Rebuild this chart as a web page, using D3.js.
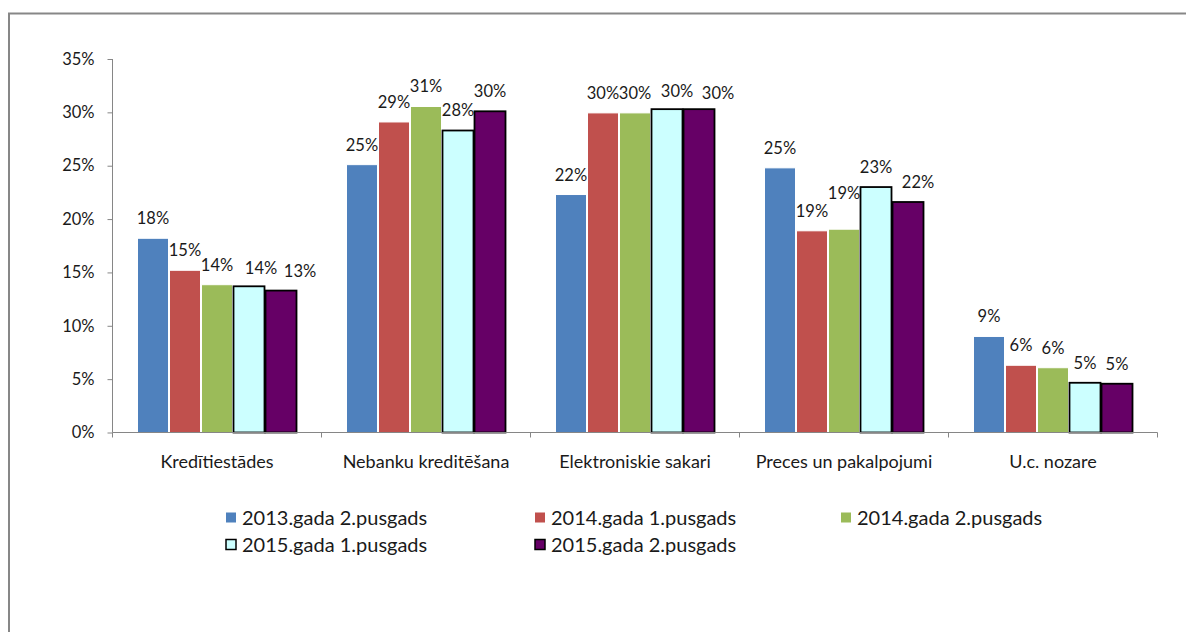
<!DOCTYPE html>
<html>
<head>
<meta charset="utf-8">
<script src="https://cdn.jsdelivr.net/npm/d3@7"></script>
<style>
  html, body { margin: 0; padding: 0; background: #fff; }
  svg { display: block; font-family: Lato, "Open Sans", sans-serif; }
</style>
</head>
<body>
<svg id="chart" width="1186" height="632"></svg>
<script>
// ---- data ----
const categories = ["Kredītiestādes", "Nebanku kreditēšana", "Elektroniskie sakari", "Preces un pakalpojumi", "U.c. nozare"];
const seriesNames = ["2013.gada 2.pusgads", "2014.gada 1.pusgads", "2014.gada 2.pusgads", "2015.gada 1.pusgads", "2015.gada 2.pusgads"];
const s2013H2 = [0.182, 0.251, 0.223, 0.248, 0.090];
const s2014H1 = [0.152, 0.291, 0.2995, 0.189, 0.063];
const s2014H2 = [0.1385, 0.3055, 0.2995, 0.1905, 0.0607];
const s2015H1 = [0.137, 0.283, 0.303, 0.230, 0.0466];
const s2015H2 = [0.133, 0.301, 0.303, 0.216, 0.0457];
const yTicks = [0, 0.05, 0.10, 0.15, 0.20, 0.25, 0.30, 0.35];

// ---- styles ----
const fills = ["#4F81BD", "#C0504D", "#9BBB59", "#CCFFFF", "#660066"];
const strokes = ["#ffffff", "#ffffff", "#ffffff", "#000000", "#000000"];
const strokeW = [1, 1, 1, 1.8, 1.8];
// manual label nudges (as moved in the original): [series-category] -> [dx, dy]
const labelNudge = {
  "3-0": [12, 2], "4-0": [19, 0],
  "3-2": [10, 2], "4-2": [19, 4],
  "2-3": [0, -16], "4-3": [10, 0]
};

const allSeries = [s2013H2, s2014H1, s2014H2, s2015H1, s2015H2];

const svg = d3.select("#chart");

// outer frame
svg.append("rect")
  .attr("x", 9).attr("y", 13.5)
  .attr("width", 1300).attr("height", 800)
  .attr("fill", "none").attr("stroke", "#878787").attr("stroke-width", 2);

const pLeft = 112.5, pRight = 1157.5, pTop = 59, pBottom = 432.5;

const y = d3.scaleLinear().domain([0, 0.35]).range([pBottom, pTop]);
const x0 = d3.scaleBand().domain(categories).range([pLeft, pRight])
  .paddingInner(0.2344).paddingOuter(0.1172);
const x1 = d3.scaleBand().domain(d3.range(seriesNames.length)).range([0, x0.bandwidth()]).padding(0);

const pct = d3.format(".0%");
const axisColor = "#868686";
const textColor = "#1a1a1a";

// y axis
const yAxis = svg.append("g").attr("transform", `translate(${pLeft},0)`)
  .call(d3.axisLeft(y).tickValues(yTicks).tickFormat(pct).tickSize(5).tickPadding(13));
yAxis.select(".domain").attr("stroke", axisColor).attr("d", `M0,${pTop}V${pBottom}`);
yAxis.selectAll(".tick line").attr("stroke", axisColor);
yAxis.selectAll(".tick text").attr("fill", textColor).style("font-size", "16.5px").style("font-family", "Lato");

// bars
const groups = svg.append("g").selectAll("g")
  .data(allSeries).join("g");

groups.each(function(vals, si) {
  d3.select(this).selectAll("rect")
    .data(vals).join("rect")
    .attr("x", (d, ci) => x0(categories[ci]) + x1(si) + 0.5)
    .attr("y", d => y(d))
    .attr("width", x1.bandwidth() - 1)
    .attr("height", d => pBottom - y(d))
    .attr("fill", fills[si])
    .attr("stroke", strokes[si])
    .attr("stroke-width", strokeW[si]);
});

// x axis
const xAxis = svg.append("g").attr("transform", `translate(0,${pBottom})`);
xAxis.append("path").attr("d", `M${pLeft},0H${pRight}`).attr("stroke", axisColor).attr("fill", "none");
const halfGap = (x0.step() - x0.bandwidth()) / 2;
const boundaryX = i => i === 0 ? pLeft : (i === categories.length ? pRight : x0(categories[i]) - halfGap);
xAxis.selectAll("line.tk").data(d3.range(categories.length + 1)).join("line")
  .attr("class", "tk")
  .attr("x1", boundaryX).attr("x2", boundaryX)
  .attr("y1", 0).attr("y2", 5).attr("stroke", axisColor);
xAxis.selectAll("text").data(categories).join("text")
  .attr("x", c => x0(c) + x0.bandwidth() / 2)
  .attr("y", 35)
  .attr("text-anchor", "middle")
  .attr("fill", textColor)
  .style("font-size", "18px")
  .text(c => c);

// data labels
groups.each(function(vals, si) {
  d3.select(this).selectAll("text")
    .data(vals).join("text")
    .attr("x", (d, ci) => x0(categories[ci]) + x1(si) + x1.bandwidth() / 2 + ((labelNudge[si + "-" + ci] || [0, 0])[0]))
    .attr("y", (d, ci) => y(d) - 14 + ((labelNudge[si + "-" + ci] || [0, 0])[1]))
    .attr("text-anchor", "middle")
    .attr("fill", textColor)
    .style("font-size", "16.5px")
    .text(d => pct(d));
});

// legend
const legendPos = [[226, 512.5], [535, 512.5], [841, 512.5], [226, 539.5], [535, 539.5]];
const lg = svg.append("g").selectAll("g").data(seriesNames).join("g")
  .attr("transform", (d, i) => `translate(${legendPos[i][0]},${legendPos[i][1]})`);
lg.append("rect")
  .attr("width", 10).attr("height", 10)
  .attr("fill", (d, i) => fills[i])
  .attr("stroke", (d, i) => i >= 3 ? "#000" : "none")
  .attr("stroke-width", 1.5);
lg.append("text")
  .attr("x", 16).attr("y", 5).attr("dy", "0.36em")
  .attr("fill", textColor)
  .style("font-size", "20px")
  .text(d => d);
</script>
</body>
</html>
